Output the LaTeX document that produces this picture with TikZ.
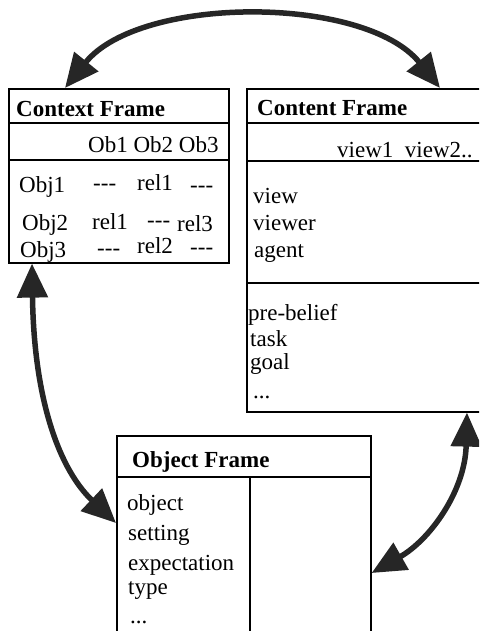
\documentclass[tikz,border=0pt]{standalone}
\usepackage{fontspec}
\setmainfont{Liberation Serif}
\usetikzlibrary{arrows.meta}
\newcommand{\nil}{-{}-{}-}
\tikzset{
  frame/.style={draw, line width=1.6pt, anchor=north west, inner sep=0pt},
  rule/.style={line width=1.6pt},
  txt/.style={anchor=base west, inner sep=0pt, font=\fontsize{23}{26}\selectfont},
  head/.style={txt, font=\fontsize{23}{26}\selectfont\bfseries},
  link/.style={line width=5.5pt, black!85, {Triangle[length=34pt,width=30pt]}-{Triangle[length=34pt,width=30pt]}}
}
\begin{document}
\begin{tikzpicture}[x=1pt,y=-1pt]
\useasboundingbox (0,0) rectangle (479,631);
\clip (0,0) rectangle (479,631);
% frames
\node[frame, minimum width=220pt, minimum height=174pt] (ctx) at (8,88) {};
\node[frame, minimum width=280pt, minimum height=323pt] (cnt) at (246,88) {};
\node[frame, minimum width=254pt, minimum height=230pt] (obj) at (116,435) {};
\draw[rule] ([yshift=-35pt]ctx.north west) -- ([yshift=-35pt]ctx.north east);
\draw[rule] ([yshift=-72pt]ctx.north west) -- ([yshift=-72pt]ctx.north east);
\draw[rule] ([yshift=-35pt]cnt.north west) -- ([yshift=-35pt]cnt.north east);
\draw[rule] ([yshift=-73pt]cnt.north west) -- ([yshift=-73pt]cnt.north east);
\draw[rule] ([yshift=-195pt]cnt.north west) -- ([yshift=-195pt]cnt.north east);
\draw[rule] ([yshift=-42pt]obj.north west) -- ([yshift=-42pt]obj.north east);
\draw[rule] ([xshift=134pt,yshift=-42pt]obj.north west) -- ([xshift=134pt]obj.south west);

% context frame
\node[head] (ctxname) at (16,117) {Context Frame};
\node[txt] (ctxcols) at (88,153) {Ob1 Ob2 Ob3};
\node[txt] (obja) at (19,193) {Obj1};
\node[txt] (aa) at (93,190) {\nil};
\node[txt] (ab) at (137,190) {rel1};
\node[txt] (ac) at (190,192) {\nil};
\node[txt] (objb) at (22,230) {Obj2};
\node[txt] (ba) at (92,229) {rel1};
\node[txt] (bb) at (147,227) {\nil};
\node[txt] (bc) at (177,231) {rel3};
\node[txt] (objc) at (20,257) {Obj3};
\node[txt] (ca) at (97,255) {\nil};
\node[txt] (cb) at (137,253) {rel2};
\node[txt] (cc) at (190,254) {\nil};

% content frame
\node[head] (cntname) at (257,116) {Content Frame};
\node[txt] (views) at (337,158) {view1\ \ view2..};
\node[txt] (view) at (253,203) {view};
\node[txt] (viewer) at (253,230) {viewer};
\node[txt] (agent) at (254,257) {agent};
\node[txt] (prebelief) at (248,320) {pre-belief};
\node[txt] (task) at (250,346) {task};
\node[txt] (goal) at (250,369) {goal};
\node[txt] (cntmore) at (253,398) {...};

% object frame
\node[head] (objname) at (132,467) {Object Frame};
\node[txt] (object) at (127,510) {object};
\node[txt] (setting) at (128,540) {setting};
\node[txt] (expect) at (128,570) {expectation};
\node[txt] (type) at (128,594) {type};
\node[txt] (objmore) at (130,623) {...};

% links
\coordinate (ctxtop) at ([xshift=57pt]ctx.north west);
\coordinate (cnttop) at ([xshift=194pt]cnt.north west);
\coordinate (ctxbot) at ([xshift=24pt]ctx.south west);
\coordinate (objleft) at ([yshift=-88pt]obj.north west);
\coordinate (cntbot) at ([xshift=221pt]cnt.south west);
\coordinate (objright) at ([yshift=-138pt]obj.north east);
\draw[link] (ctxtop) .. controls +(75,-93) and +(-75,-93) .. (cnttop);
\draw[link] (ctxbot) .. controls +(2,138) and +(-56,-53) .. (objleft);
\draw[link] (cntbot) .. controls +(-2,79) and +(58,-33) .. (objright);
\end{tikzpicture}
\end{document}
